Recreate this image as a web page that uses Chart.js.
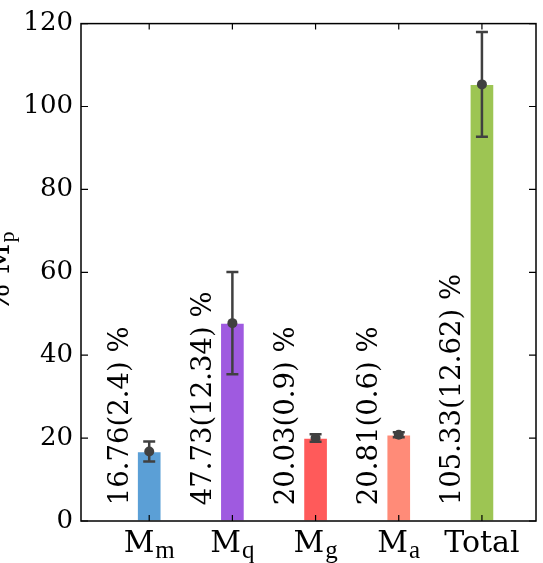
<!DOCTYPE html>
<html>
<head>
<meta charset="utf-8">
<script src="https://cdn.jsdelivr.net/npm/chart.js@4/dist/chart.umd.min.js"></script>
<style>
  html, body { margin: 0; padding: 0; background: #fff; }
  #c { display: block; }
</style>
</head>
<body>
<canvas id="c" width="543" height="563"></canvas>
<script>
// Mass fractions (percent of M_p) with their uncertainties
const categories = ['M', 'M', 'M', 'M', 'Total'];
const subscripts = ['m', 'q', 'g', 'a', ''];
const meanValues = [16.76, 47.73, 20.03, 20.81, 105.33];
const errorValues = [2.4, 12.34, 0.9, 0.6, 12.62];
const barColors = ['#5b9fd6', '#9f5ae0', '#ff5a5a', '#ff8b78', '#9dc553'];
const yTicks = [0, 20, 40, 60, 80, 100, 120];

const serif = 'DejaVu Serif';
const subSerif = 'Liberation Serif';
const ink = '#404040';

const points = meanValues.map((v, i) => ({ x: i, y: v }));

// Frame, inward ticks, error bars, rotated value labels and subscripted category names
const decorations = {
  id: 'decorations',
  afterDatasetsDraw(chart) {
    const { ctx, scales: { x, y } } = chart;
    ctx.save();
    ctx.strokeStyle = ink;
    ctx.fillStyle = ink;
    ctx.lineWidth = 2.5;
    meanValues.forEach((m, i) => {
      const e = errorValues[i];
      const px = x.getPixelForValue(i);
      const yHi = y.getPixelForValue(m + e);
      const yLo = y.getPixelForValue(m - e);
      ctx.beginPath();
      ctx.moveTo(px, yHi); ctx.lineTo(px, yLo);
      ctx.moveTo(px - 6, yHi); ctx.lineTo(px + 6, yHi);
      ctx.moveTo(px - 6, yLo); ctx.lineTo(px + 6, yLo);
      ctx.stroke();
      ctx.beginPath();
      ctx.arc(px, y.getPixelForValue(m), 5, 0, Math.PI * 2);
      ctx.fill();
    });
    ctx.restore();
  },
  afterDraw(chart) {
    const { ctx, chartArea: a, scales: { x, y } } = chart;
    ctx.save();
    ctx.strokeStyle = '#000';
    ctx.lineWidth = 1.5;
    ctx.strokeRect(a.left, a.top, a.right - a.left, a.bottom - a.top);
    ctx.lineWidth = 1.2;
    ctx.beginPath();
    yTicks.forEach(v => {
      const py = y.getPixelForValue(v);
      ctx.moveTo(a.left, py); ctx.lineTo(a.left + 7, py);
      ctx.moveTo(a.right, py); ctx.lineTo(a.right - 7, py);
    });
    categories.forEach((c, i) => {
      const px = x.getPixelForValue(i);
      ctx.moveTo(px, a.bottom); ctx.lineTo(px, a.bottom - 6);
      ctx.moveTo(px, a.top); ctx.lineTo(px, a.top + 6);
    });
    ctx.stroke();

    // value labels, reading upward, left of each bar
    const labelSize = 27.5;
    ctx.fillStyle = '#000';
    ctx.font = `${labelSize}px "${serif}"`;
    ctx.textAlign = 'left';
    ctx.textBaseline = 'alphabetic';
    meanValues.forEach((m, i) => {
      const txt = `${m}(${errorValues[i]}) %`;
      ctx.save();
      ctx.translate(x.getPixelForValue(i - 0.38) + labelSize * 0.365, y.getPixelForValue(3.8));
      ctx.rotate(-Math.PI / 2);
      ctx.fillText(txt, 0, 0);
      ctx.restore();
    });

    // category names with subscripts
    const mainFont = `30px "${serif}"`;
    const subFont = `25px "${subSerif}"`;
    categories.forEach((c, i) => {
      ctx.font = mainFont;
      const w1 = ctx.measureText(c).width;
      ctx.font = subFont;
      const w2 = subscripts[i] ? ctx.measureText(subscripts[i]).width + 1 : 0;
      const x0 = x.getPixelForValue(i) - (w1 + w2) / 2;
      const base = a.bottom + 31;
      ctx.font = mainFont;
      ctx.fillText(c, x0, base);
      if (subscripts[i]) {
        ctx.font = subFont;
        ctx.fillText(subscripts[i], x0 + w1 + 1, base + 6);
      }
    });

    // y axis title
    ctx.save();
    ctx.font = `30px "${serif}"`;
    const t1 = '% M';
    const w1 = ctx.measureText(t1).width;
    ctx.font = `22px "${subSerif}"`;
    const w2 = ctx.measureText('p').width;
    const cy = (a.top + a.bottom) / 2;
    ctx.translate(9, cy + (w1 + w2) / 2);
    ctx.rotate(-Math.PI / 2);
    ctx.font = `30px "${serif}"`;
    ctx.fillText(t1, 0, 0);
    ctx.font = `22px "${subSerif}"`;
    ctx.fillText('p', w1 + 1, 5);
    ctx.restore();
    ctx.restore();
  }
};

new Chart(document.getElementById('c'), {
  type: 'bar',
  data: {
    datasets: [{
      data: points,
      backgroundColor: barColors,
      borderColor: 'rgba(255,255,255,0.6)',
      borderWidth: 1,
      borderSkipped: false,
      barThickness: 24
    }]
  },
  options: {
    responsive: false,
    animation: false,
    devicePixelRatio: 1,
    layout: { padding: { left: 0, top: 19, right: 7, bottom: 0 } },
    plugins: { legend: { display: false }, tooltip: { enabled: false } },
    scales: {
      x: {
        type: 'linear',
        offset: false,
        min: -0.82,
        max: 4.65,
        grid: { display: false, offset: false },
        border: { display: false },
        ticks: { display: false },
        afterFit(s) { s.height = 42; }
      },
      y: {
        min: 0,
        max: 120,
        afterBuildTicks(s) { s.ticks = yTicks.map(v => ({ value: v })); },
        ticks: { font: { family: serif, size: 26 }, color: '#000', padding: 8 },
        grid: { display: false, drawTicks: false },
        border: { display: false },
        afterFit(s) { s.width = 81; }
      }
    }
  },
  plugins: [decorations]
});
</script>
</body>
</html>
